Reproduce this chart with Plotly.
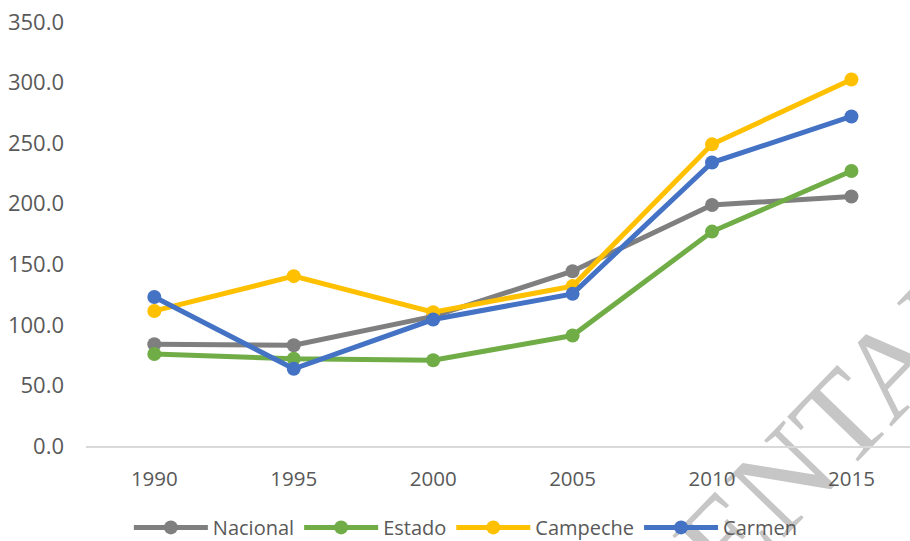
import plotly.graph_objects as go

years = ["1990", "1995", "2000", "2005", "2010", "2015"]
nacional = [84.0, 83.2, 107.0, 144.3, 199.0, 206.0]
estado = [76.0, 72.0, 70.8, 91.2, 177.0, 227.0]
campeche = [111.5, 140.2, 110.5, 132.0, 249.0, 302.5]
carmen = [123.0, 63.7, 104.4, 125.6, 234.0, 272.0]

series = [
    ("Nacional", nacional, "#7F7F7F"),
    ("Estado", estado, "#70AD47"),
    ("Campeche", campeche, "#FFC000"),
    ("Carmen", carmen, "#4472C4"),
]

FONT = "Open Sans, DejaVu Sans, sans-serif"

fig = go.Figure()
for name, vals, col in series:
    fig.add_trace(go.Scatter(
        x=years, y=vals, name=name, mode="lines+markers",
        line=dict(color=col, width=5),
        marker=dict(color=col, size=14),
    ))

# background watermark (drawn below traces and legend)
cx, cy = (832 - 86) / 824, (446.5 - 408) / 424.5
fig.add_shape(
    type="line", xref="paper", yref="paper",
    x0=cx - 0.001, x1=cx + 0.001, y0=cy, y1=cy,
    line=dict(width=0, color="rgba(0,0,0,0)"), layer="below",
    label=dict(
        text="ENTAD", textangle=-46, textposition="middle",
        xanchor="center", yanchor="middle",
        font=dict(family="Liberation Serif", size=125, color="#C6C6C6"),
    ),
)

fig.update_layout(
    width=910, height=541,
    margin=dict(l=86, r=0, t=22, b=94.5, autoexpand=False),
    paper_bgcolor="white", plot_bgcolor="white",
    font=dict(family=FONT, color="#595959", size=20),
    showlegend=True,
    legend=dict(
        orientation="h", x=0.461, xanchor="center",
        y=(446.5 - 528) / 424.5, yanchor="middle",
        font=dict(family=FONT, size=20, color="#595959"),
        itemwidth=74, tracegroupgap=0, bgcolor="rgba(0,0,0,0)",
    ),
    xaxis=dict(
        type="category", range=[-0.49, 5.42], automargin=False,
        showgrid=False, showline=True, linecolor="#D9D9D9", linewidth=1.5,
        ticks="", ticklabelstandoff=14, ticklabeloverflow="allow",
        tickfont=dict(family=FONT, size=20.5, color="#595959"),
        zeroline=False,
    ),
    yaxis=dict(
        range=[0, 350], automargin=False,
        tickvals=[0, 50, 100, 150, 200, 250, 300, 350],
        ticktext=["0.0", "50.0", "100.0", "150.0", "200.0", "250.0", "300.0", "350.0"],
        showgrid=False, zeroline=False, showline=False, ticks="",
        ticklabelstandoff=21, ticklabeloverflow="allow",
        tickfont=dict(family=FONT, size=22, color="#595959"),
    ),
)

fig.write_html("out.html", config={"displayModeBar": False},
               post_script="document.body.style.margin='0px';")
